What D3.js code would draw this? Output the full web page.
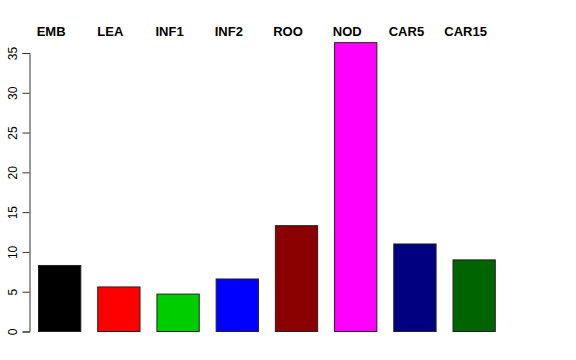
<!DOCTYPE html>
<html>
<head>
<meta charset="utf-8">
<script src="https://cdn.jsdelivr.net/npm/d3@7"></script>
<style>
  body { margin: 0; background: #fff; }
  svg { display: block; font-family: "Liberation Sans", Arial, sans-serif; }
</style>
</head>
<body>
<div id="chart"></div>
<script>
// tissues and values
var categories = ['EMB', 'LEA', 'INF1', 'INF2', 'ROO', 'NOD', 'CAR5', 'CAR15'];
var values = [8.3, 5.6, 4.7, 6.6, 13.3, 36.3, 11.0, 9.0];
var colors = ['#000000', '#FF0000', '#00CD00', '#0000FF', '#8B0000', '#FF00FF', '#000080', '#006400'];
var yTicks = [0, 5, 10, 15, 20, 25, 30, 35];

var width = 576, height = 360;

var svg = d3.select('#chart')
    .append('svg')
    .attr('width', width)
    .attr('height', height);

var x = d3.scaleBand()
    .domain(categories)
    .range([38, 494.8])
    .paddingInner(0.2856)
    .paddingOuter(0);

var y = d3.scaleLinear()
    .domain([0, 35])
    .range([331.5, 53]);

// bars
svg.selectAll('.bar')
    .data(categories)
    .enter()
    .append('rect')
    .attr('class', 'bar')
    .attr('x', function (d) { return x(d) + 0.5; })
    .attr('y', function (d, i) { return y(values[i]); })
    .attr('width', x.bandwidth())
    .attr('height', function (d, i) { return y(0) - y(values[i]); })
    .style('fill', function (d, i) { return colors[i]; })
    .style('stroke', '#222')
    .style('stroke-width', 1);

// labels over the bars (sit a bit left of the bar centre, like the original)
svg.selectAll('.lab')
    .data(categories)
    .enter()
    .append('text')
    .attr('class', 'lab')
    .attr('x', function (d) { return x(d) + x.bandwidth() / 2 - 8; })
    .attr('y', 35.5)
    .attr('text-anchor', 'middle')
    .style('font-size', '13px')
    .style('font-weight', 'bold')
    .text(function (d) { return d; });

// y axis, R style with rotated labels
var yAxis = svg.append('g')
    .attr('transform', 'translate(29.5,0)')
    .call(d3.axisLeft(y).tickValues(yTicks).tickSizeOuter(0).tickSize(7));

yAxis.select('.domain').attr('stroke', '#333');
yAxis.selectAll('.tick line').attr('stroke', '#333');
yAxis.selectAll('.tick text')
    .attr('x', 0)
    .attr('dy', 0)
    .attr('text-anchor', 'middle')
    .attr('transform', 'translate(-13,0) rotate(-90)')
    .style('font-size', '12px')
    .style('font-family', '"Liberation Sans", Arial, sans-serif')
    .attr('fill', '#000');
</script>
</body>
</html>
